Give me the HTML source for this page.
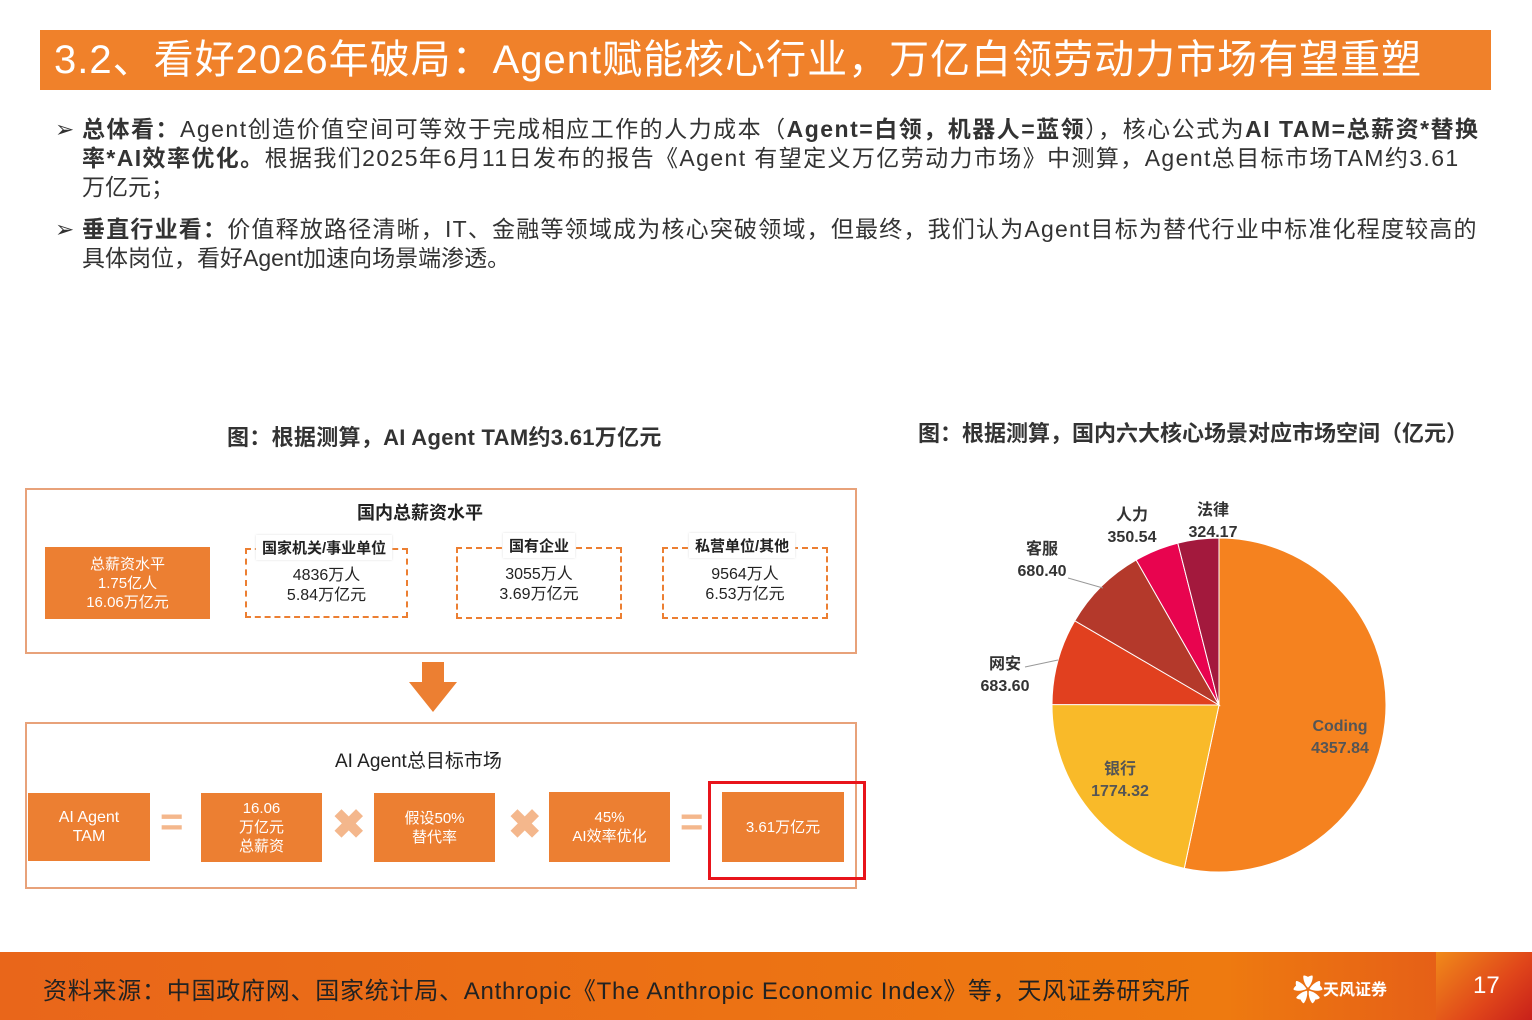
<!DOCTYPE html>
<html><head><meta charset="utf-8">
<style>
body{margin:0;width:1532px;height:1020px;position:relative;background:#fff;font-family:"Liberation Sans","Noto Sans CJK SC",sans-serif;overflow:hidden;color:#333}
.abs{position:absolute}
.ob{position:absolute;background:#EC7F32;color:#fff;text-align:center;display:flex;align-items:center;justify-content:center;font-size:15px;line-height:19px}
.db{position:absolute;border:2px dashed #EC7F32;text-align:center;font-size:16px;line-height:20px;color:#222}
.tab{position:absolute;background:#fff;font-size:15px;font-weight:bold;color:#222;padding:2px 6px;box-shadow:0 0 2px #ddd}
.sym{position:absolute;color:#F4B78C;font-size:40px;font-weight:bold}
.bl{position:absolute;left:55px;width:1460px;font-size:23px;line-height:29px;padding-left:27px;box-sizing:border-box;white-space:nowrap}
</style></head><body>
<div class="abs" style="left:40px;top:30px;width:1451px;height:60px;background:#F0812A;color:#fff;font-size:40px;line-height:60px;padding-left:14px;box-sizing:border-box;letter-spacing:1px">3.2、看好2026年破局：Agent赋能核心行业，万亿白领劳动力市场有望重塑</div>
<div class="bl" style="top:115px"><span style="position:absolute;left:0">➢</span><span style="letter-spacing:1.5px"><b>总体看：</b>Agent创造价值空间可等效于完成相应工作的人力成本（<b>Agent=白领，机器人=蓝领</b>），核心公式为<b>AI TAM=总薪资*替换</b></span><br><span style="letter-spacing:1.4px"><b>率*AI效率优化。</b>根据我们2025年6月11日发布的报告《Agent 有望定义万亿劳动力市场》中测算，Agent总目标市场TAM约3.61</span><br>万亿元；</div>
<div class="bl" style="top:215px"><span style="position:absolute;left:0">➢</span><span style="letter-spacing:1.2px"><b>垂直行业看：</b>价值释放路径清晰，IT、金融等领域成为核心突破领域，但最终，我们认为Agent目标为替代行业中标准化程度较高的</span><br>具体岗位，看好Agent加速向场景端渗透。</div>
<div class="abs" style="left:227px;top:420px;font-size:22px;font-weight:bold;color:#333;letter-spacing:0.3px">图：根据测算，AI Agent TAM约3.61万亿元</div>
<div class="abs" style="left:918px;top:416px;font-size:22px;font-weight:bold;color:#333">图：根据测算，国内六大核心场景对应市场空间（亿元）</div>

<div class="abs" style="left:25px;top:488px;width:828px;height:162px;border:2px solid #E8A27A"></div>
<div class="abs" style="left:357px;top:499px;font-size:18px;font-weight:bold;color:#222">国内总薪资水平</div>
<div class="ob" style="left:45px;top:547px;width:165px;height:72px">总薪资水平<br>1.75亿人<br>16.06万亿元</div>
<div class="db" style="left:245px;top:548px;width:163px;height:70px;padding-top:16px;box-sizing:border-box">4836万人<br>5.84万亿元</div>
<div class="tab" style="left:256px;top:535px">国家机关/事业单位</div>
<div class="db" style="left:456px;top:547px;width:166px;height:72px;padding-top:16px;box-sizing:border-box">3055万人<br>3.69万亿元</div>
<div class="tab" style="left:503px;top:533px">国有企业</div>
<div class="db" style="left:662px;top:547px;width:166px;height:72px;padding-top:16px;box-sizing:border-box">9564万人<br>6.53万亿元</div>
<div class="tab" style="left:689px;top:533px">私营单位/其他</div>

<svg class="abs" style="left:408px;top:662px" width="50" height="50"><polygon points="14,0 36,0 36,20 49,20 25,50 1,20 14,20" fill="#EC7F32"/></svg>

<div class="abs" style="left:25px;top:722px;width:828px;height:163px;border:2px solid #E8A27A"></div>
<div class="abs" style="left:335px;top:746px;font-size:19px;color:#222">AI Agent总目标市场</div>
<div class="ob" style="left:28px;top:793px;width:122px;height:68px;font-size:16px">AI Agent<br>TAM</div>
<div class="sym" style="left:160px;top:800px">=</div>
<div class="ob" style="left:201px;top:793px;width:121px;height:69px">16.06<br>万亿元<br>总薪资</div>
<div class="sym" style="left:332px;top:802px">✖</div>
<div class="ob" style="left:374px;top:793px;width:121px;height:69px">假设50%<br>替代率</div>
<div class="sym" style="left:508px;top:802px">✖</div>
<div class="ob" style="left:549px;top:792px;width:121px;height:70px">45%<br>AI效率优化</div>
<div class="sym" style="left:680px;top:800px">=</div>
<div class="ob" style="left:722px;top:792px;width:122px;height:70px">3.61万亿元</div>
<div class="abs" style="left:708px;top:781px;width:152px;height:93px;border:3px solid #E8141B"></div>

<svg class="abs" id="pie" style="left:0;top:0" width="1532" height="950"></svg>

<div class="abs" style="left:0;top:952px;width:1532px;height:68px;background:linear-gradient(90deg,#E9661A,#EE7A10 80%,#E2541A)"></div>
<div class="abs" style="left:43px;top:971px;font-size:24px;color:#222;letter-spacing:0.75px;white-space:nowrap">资料来源：中国政府网、国家统计局、Anthropic《The Anthropic Economic Index》等，天风证券研究所</div>
<div class="abs" style="left:1293px;top:966px;color:#fff;font-size:30px;font-weight:bold">✿<span style="font-size:16px;vertical-align:6px">天风证券</span></div>
<div class="abs" style="left:1436px;top:952px;width:96px;height:68px;background:linear-gradient(135deg,#F08A1A,#E0461A 60%,#C8201A)"></div>
<div class="abs" style="left:1473px;top:972px;color:#fff;font-size:24px">17</div>

<script>
const categories=["Coding","银行","网安","客服","人力","法律"];
const values=[4357.84,1774.32,683.60,680.40,350.54,324.17];
const labels=["4357.84","1774.32","683.60","680.40","350.54","324.17"];
const colors=["#F5821F","#F9BA29","#E1401F","#B4392B","#E8044F","#A3193D"];
const svg=document.getElementById('pie');
const NS='http://www.w3.org/2000/svg';
const cx=1219,cy=705,r=167;
const total=values.reduce((a,b)=>a+b,0);
const labelPos=[[1340,731,'#555'],[1120,774,'#555'],[1005,669,'#333'],[1042,554,'#333'],[1132,520,'#333'],[1213,515,'#333']];
let a=0;
values.forEach((v,i)=>{
  const a2=a+v/total*2*Math.PI;
  const x1=cx+r*Math.sin(a),y1=cy-r*Math.cos(a),x2=cx+r*Math.sin(a2),y2=cy-r*Math.cos(a2);
  const p=document.createElementNS(NS,'path');
  p.setAttribute('d',`M${cx},${cy}L${x1},${y1}A${r},${r} 0 ${a2-a>Math.PI?1:0} 1 ${x2},${y2}Z`);
  p.setAttribute('fill',colors[i]);p.setAttribute('stroke','#fff');p.setAttribute('stroke-width','1');
  
  
  svg.appendChild(p);
  const [lx,ly,c]=labelPos[i];
  [categories[i],labels[i]].forEach((t,k)=>{
    const tx=document.createElementNS(NS,'text');
    tx.setAttribute('x',lx);tx.setAttribute('y',ly+k*22);tx.setAttribute('text-anchor','middle');
    tx.setAttribute('font-size','16');tx.setAttribute('font-weight','bold');tx.setAttribute('fill',c);
    tx.textContent=t;
    
    
    svg.appendChild(tx);
  });
  a=a2;
});
[[1025,667,1058,660],[1068,578,1103,588]].forEach(l=>{
  const ln=document.createElementNS(NS,'line');
  ln.setAttribute('x1',l[0]);ln.setAttribute('y1',l[1]);ln.setAttribute('x2',l[2]);ln.setAttribute('y2',l[3]);
  ln.setAttribute('stroke','#999');
  
  
  svg.appendChild(ln);
});
</script>
</body></html>
